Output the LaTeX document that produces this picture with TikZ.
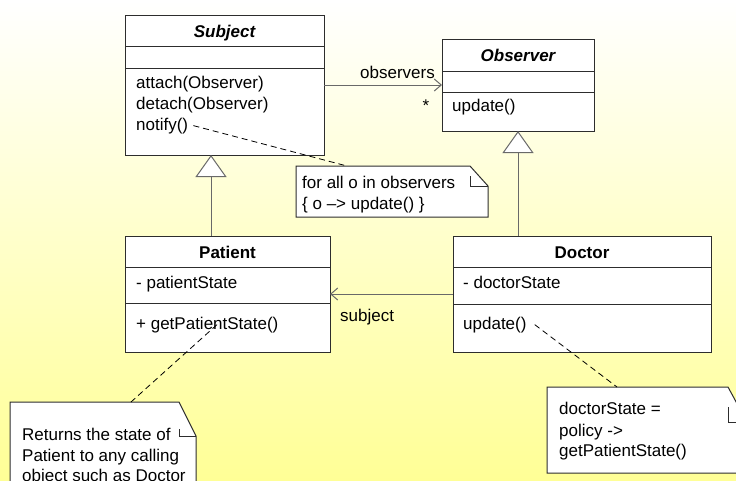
\documentclass[tikz,border=0pt]{standalone}
\usepackage{fontspec}
\setmainfont{Liberation Sans}
\usetikzlibrary{arrows.meta}

\definecolor{bgbottom}{RGB}{255,255,150}
\definecolor{boxline}{RGB}{45,45,45}
\definecolor{linkline}{RGB}{105,105,105}

\newcommand\umlsize{\fontsize{17pt}{21pt}\selectfont}
% horizontal divider inside a class box, #2 below its top edge
\newcommand\compartment[2]{\draw[compline] ([yshift=-#2]#1.north west) -- ([yshift=-#2]#1.north east);}
% note outline with a folded corner: node, fold width, fold height, inner leg
\newcommand\dognote[4]{%
  \draw[noteborder, fill=white] (#1.north west) -- ([xshift=-#2]#1.north east)
     -- ([yshift=-#3]#1.north east) -- (#1.south east) -- (#1.south west) -- cycle;
  \draw[noteborder] ([xshift=-#2, yshift=-#3+#4]#1.north east)
     -- ([xshift=-#2, yshift=-#3]#1.north east) -- ([yshift=-#3]#1.north east);}

\tikzset{
  classbox/.style={draw=boxline, fill=white, line width=1pt, anchor=north west, inner sep=0pt, outer sep=0pt},
  compline/.style={draw=boxline, line width=1pt},
  classtitle/.style={font=\umlsize\bfseries, anchor=base, inner sep=0pt},
  abstracttitle/.style={font=\umlsize\bfseries\itshape, anchor=base, inner sep=0pt},
  member/.style={anchor=base west, inner sep=0pt},
  rolelabel/.style={inner sep=0pt},
  notearea/.style={anchor=north west, inner sep=0pt, outer sep=0pt},
  noteborder/.style={draw=boxline, line width=1pt},
  assoc/.style={draw=linkline, line width=1pt, -{Straight Barb[length=7pt, width=12pt]}},
  generalize/.style={draw=linkline, line width=1pt, -{Triangle[open, fill=white, length=22pt, width=31pt]}},
  notelink/.style={draw=black, line width=0.8pt, dash pattern=on 6pt off 4pt},
}

\begin{document}
\begin{tikzpicture}[x=1pt, y=-1pt, font=\umlsize]
\useasboundingbox (0,0) rectangle (736,480);
\clip (0,0) rectangle (736,480);
\shade[top color=white, bottom color=bgbottom] (0,0) rectangle (736,480);

% ---- Subject ----
\node[classbox, minimum width=199pt, minimum height=140pt] (subject) at (125,15) {};
\compartment{subject}{31pt}
\compartment{subject}{53pt}
\node[abstracttitle] (subjecttitle) at ([yshift=-22pt]subject.north) {Subject};
\node[member] (subattach) at (136,88) {attach(Observer)};
\node[member] (subdetach) at (136,109) {detach(Observer)};
\node[member] (subnotify) at (136,130) {notify()};

% ---- Observer ----
\node[classbox, minimum width=152pt, minimum height=92pt] (observer) at (442,39) {};
\compartment{observer}{32pt}
\compartment{observer}{53pt}
\node[abstracttitle] (observertitle) at ([yshift=-22pt]observer.north) {Observer};
\node[member] (obsupdate) at (452,111) {update()};

% ---- Patient ----
\node[classbox, minimum width=205pt, minimum height=116pt] (patient) at (125,236) {};
\compartment{patient}{31pt}
\compartment{patient}{67pt}
\node[classtitle] (patienttitle) at ([yshift=-22pt]patient.north) {Patient};
\node[member] (patstate) at (136,288) {- patientState};
\node[member] (patget) at (136,329) {+ getPatientState()};

% ---- Doctor ----
\node[classbox, minimum width=258pt, minimum height=116pt] (doctor) at (453,236) {};
\compartment{doctor}{31pt}
\compartment{doctor}{68pt}
\node[classtitle] (doctortitle) at ([yshift=-22pt]doctor.north) {Doctor};
\node[member] (docstate) at (463,288) {- doctorState};
\node[member] (docupdate) at (463,329) {update()};

% ---- relations ----
\draw[assoc] (subject.east) -- (observer.west);
\node[rolelabel, anchor=base east] (observersrole) at (435,78) {observers};
\node[rolelabel, anchor=base] (observersmult) at (426,111) {*};

\draw[assoc] (doctor.west) -- (patient.east);
\node[rolelabel, anchor=base west] (subjectrole) at (340,321) {subject};

\draw[generalize] ([xshift=-16.5pt]patient.north) -- ([xshift=-13.5pt]subject.south);
\draw[generalize] ([xshift=-64pt]doctor.north) -- (observer.south);

% ---- notes ----
\node[notearea, minimum width=192pt, minimum height=51pt] (note1) at (296,166) {};
\dognote{note1}{18pt}{20pt}{10pt}
\node[member] (note1a) at (302,188) {for all o in observers};
\node[member] (note1b) at (302,209) {\{ o –> update() \}};

\node[notearea, minimum width=186pt, minimum height=104pt] (note2) at (10,402) {};
\dognote{note2}{17pt}{34pt}{7pt}
\node[member] (note2a) at (22,440) {Returns the state of};
\node[member] (note2b) at (22,461) {Patient to any calling};
\node[member] (note2c) at (22,481) {object such as Doctor};

\node[notearea, minimum width=200pt, minimum height=86pt] (note3) at (547,387) {};
\dognote{note3}{19pt}{35pt}{15pt}
\node[member] (note3a) at (559,414) {doctorState =};
\node[member] (note3b) at (559,436) {policy ->};
\node[member] (note3c) at (559,456) {getPatientState()};

% ---- note attachments ----
\draw[notelink] ([xshift=5pt]subnotify.east) -- ([xshift=51pt]note1.north west);
\draw[notelink] ([xshift=81pt]patget.west) -- ([xshift=121pt]note2.north west);
\draw[notelink] ([xshift=8pt]docupdate.east) -- ([xshift=70pt]note3.north west);
\end{tikzpicture}
\end{document}
